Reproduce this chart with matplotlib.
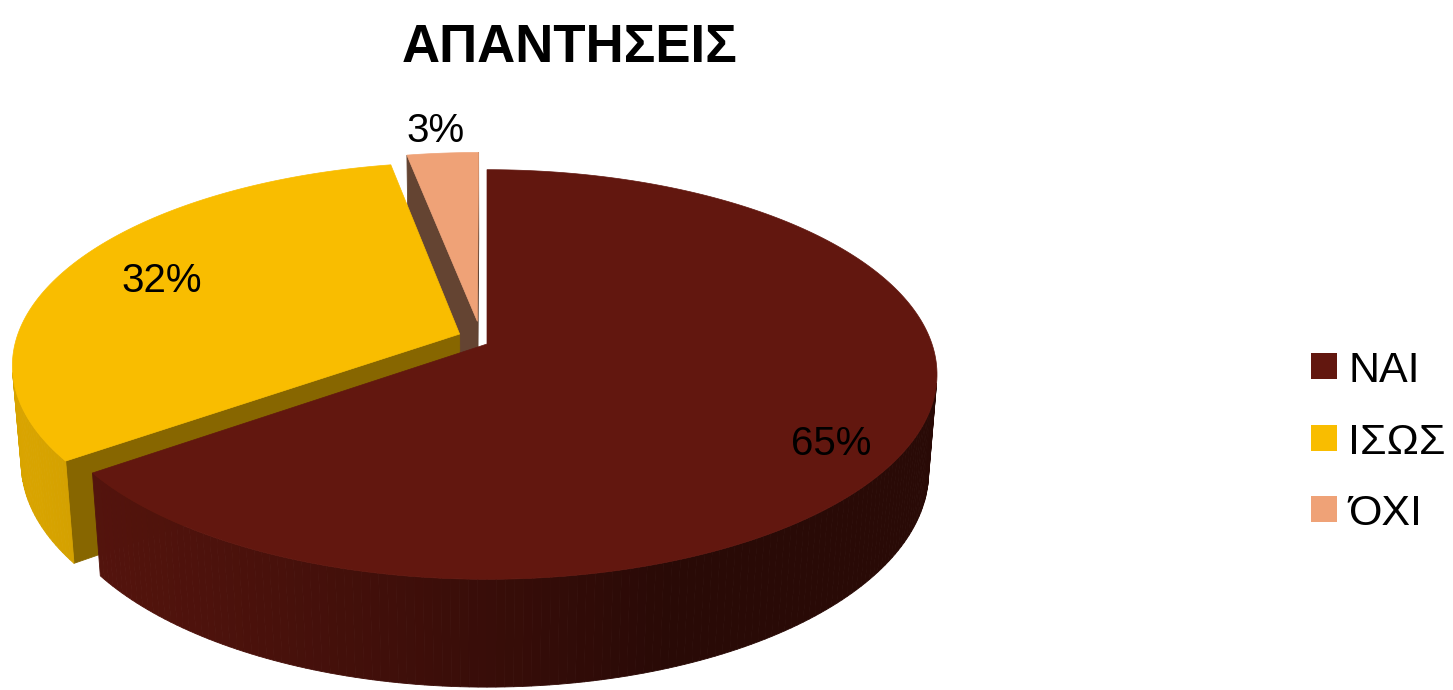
import numpy as np
import matplotlib
matplotlib.use("Agg")
import matplotlib.pyplot as plt
from matplotlib.patches import Polygon, Rectangle

# ---------------- data ----------------
title = "ΑΠΑΝΤΗΣΕΙΣ"
categories = ["ΝΑΙ", "ΙΣΩΣ", "ΌΧΙ"]
values = [65, 32, 3]
colors = ["#62170F", "#F9BD00", "#EFA277"]

# ---------------- layout / style ----------------
W, H = 1453, 690
CX, CY = 487.0, 344.0          # screen position of pie centre (pixels)
SCALE = 445.0                  # radius scale (pixels)
DIST = 6.0                     # camera distance (in radii)
ELEV = np.arcsin(0.45)         # elevation angle
DEPTH = 0.247                  # pie thickness (in radii)
OFFSETS = [(0.0, 0.0), (-0.062, 0.05), (-0.022, 0.115)]  # explode offsets (ground plane)
START = 90.0

label_pos = [(831, 455), (162, 292), (436, 142)]
FONT = ["Liberation Sans", "DejaVu Sans"]

sa, ca = np.sin(ELEV), np.cos(ELEV)
F = SCALE * DIST
cam = np.array([0.0, -DIST * ca, DIST * sa])


def proj(u, v, z):
    u, v, z = np.asarray(u, float), np.asarray(v, float), np.asarray(z, float)
    yc = v * sa + z * ca
    d = DIST + v * ca - z * sa
    return CX + F * u / d, CY - F * yc / d, d


def shade(c, f):
    r, g, b = matplotlib.colors.to_rgb(c)
    return (r * f, g * f, b * f)


fig = plt.figure(figsize=(W / 100, H / 100), dpi=100)
ax = fig.add_axes([0, 0, 1, 1])
ax.set_xlim(0, W)
ax.set_ylim(H, 0)
ax.axis("off")

total = float(sum(values))
angles = []
a = START
for v in values:
    span = 360.0 * v / total
    angles.append((a - span, a))   # ccw range, drawn clockwise from START
    a -= span

side_faces = []   # (depth, xs, ys, color)
top_faces = []

for (t0, t1), col, (ou, ov) in zip(angles, colors, OFFSETS):
    th = np.radians(np.linspace(t0, t1, max(int(abs(t1 - t0)), 2) + 1))
    # top face
    us = np.concatenate([[ou], ou + np.cos(th)])
    vs = np.concatenate([[ov], ov + np.sin(th)])
    x, y, _ = proj(us, vs, np.zeros_like(us))
    top_faces.append((x, y, col))
    # outer wall quads
    for k in range(len(th) - 1):
        tm = 0.5 * (th[k] + th[k + 1])
        n = np.array([np.cos(tm), np.sin(tm), 0.0])
        P = np.array([ou + np.cos(tm), ov + np.sin(tm), -DEPTH / 2])
        if np.dot(n, cam - P) <= 0:
            continue
        uu = ou + np.cos([th[k], th[k + 1], th[k + 1], th[k]])
        vv = ov + np.sin([th[k], th[k + 1], th[k + 1], th[k]])
        zz = np.array([0, 0, -DEPTH, -DEPTH])
        x, y, d = proj(uu, vv, zz)
        deg = np.degrees(tm)
        f = 0.42 + 0.45 * max(0.0, np.cos(np.radians(deg - 200.0)))
        side_faces.append((d.mean(), x, y, shade(col, f)))
    # cut faces
    for t, sgn in ((t0, -1), (t1, 1)):
        tr = np.radians(t)
        nang = tr + sgn * np.pi / 2
        n = np.array([np.cos(nang), np.sin(nang), 0.0])
        P = np.array([ou + 0.5 * np.cos(tr), ov + 0.5 * np.sin(tr), -DEPTH / 2])
        if np.dot(n, cam - P) <= 1e-6:
            continue
        uu = np.array([ou, ou + np.cos(tr), ou + np.cos(tr), ou])
        vv = np.array([ov, ov + np.sin(tr), ov + np.sin(tr), ov])
        zz = np.array([0, 0, -DEPTH, -DEPTH])
        x, y, d = proj(uu, vv, zz)
        f = 0.38 + 0.2 * max(0.0, -n[1])
        side_faces.append((d.mean(), x, y, shade(col, f)))

for d, x, y, c in sorted(side_faces, key=lambda s: -s[0]):
    ax.add_patch(Polygon(np.column_stack([x, y]), closed=True, facecolor=c,
                         edgecolor=c, linewidth=0.6, antialiased=True))
for x, y, c in top_faces:
    ax.add_patch(Polygon(np.column_stack([x, y]), closed=True, facecolor=c,
                         edgecolor=c, linewidth=0.5))

# data labels
for v, (lx, ly) in zip(values, label_pos):
    ax.text(lx, ly, f"{v / total * 100:.0f}%", ha="center", va="baseline",
            fontsize=29, family=FONT, color="black")

# title
ax.text(570, 62, title, ha="center", va="baseline", fontsize=38,
        fontweight="bold", family=FONT, color="black")

# legend
for i, (cat, col) in enumerate(zip(categories, colors)):
    yc = 366 + i * 71.5
    ax.add_patch(Rectangle((1311, yc - 13), 26, 26, facecolor=col, edgecolor="none"))
    ax.text(1348, yc + 16, cat, ha="left", va="baseline", fontsize=31,
            family=FONT, color="black")

fig.savefig("out.png", dpi=100, facecolor="white")
